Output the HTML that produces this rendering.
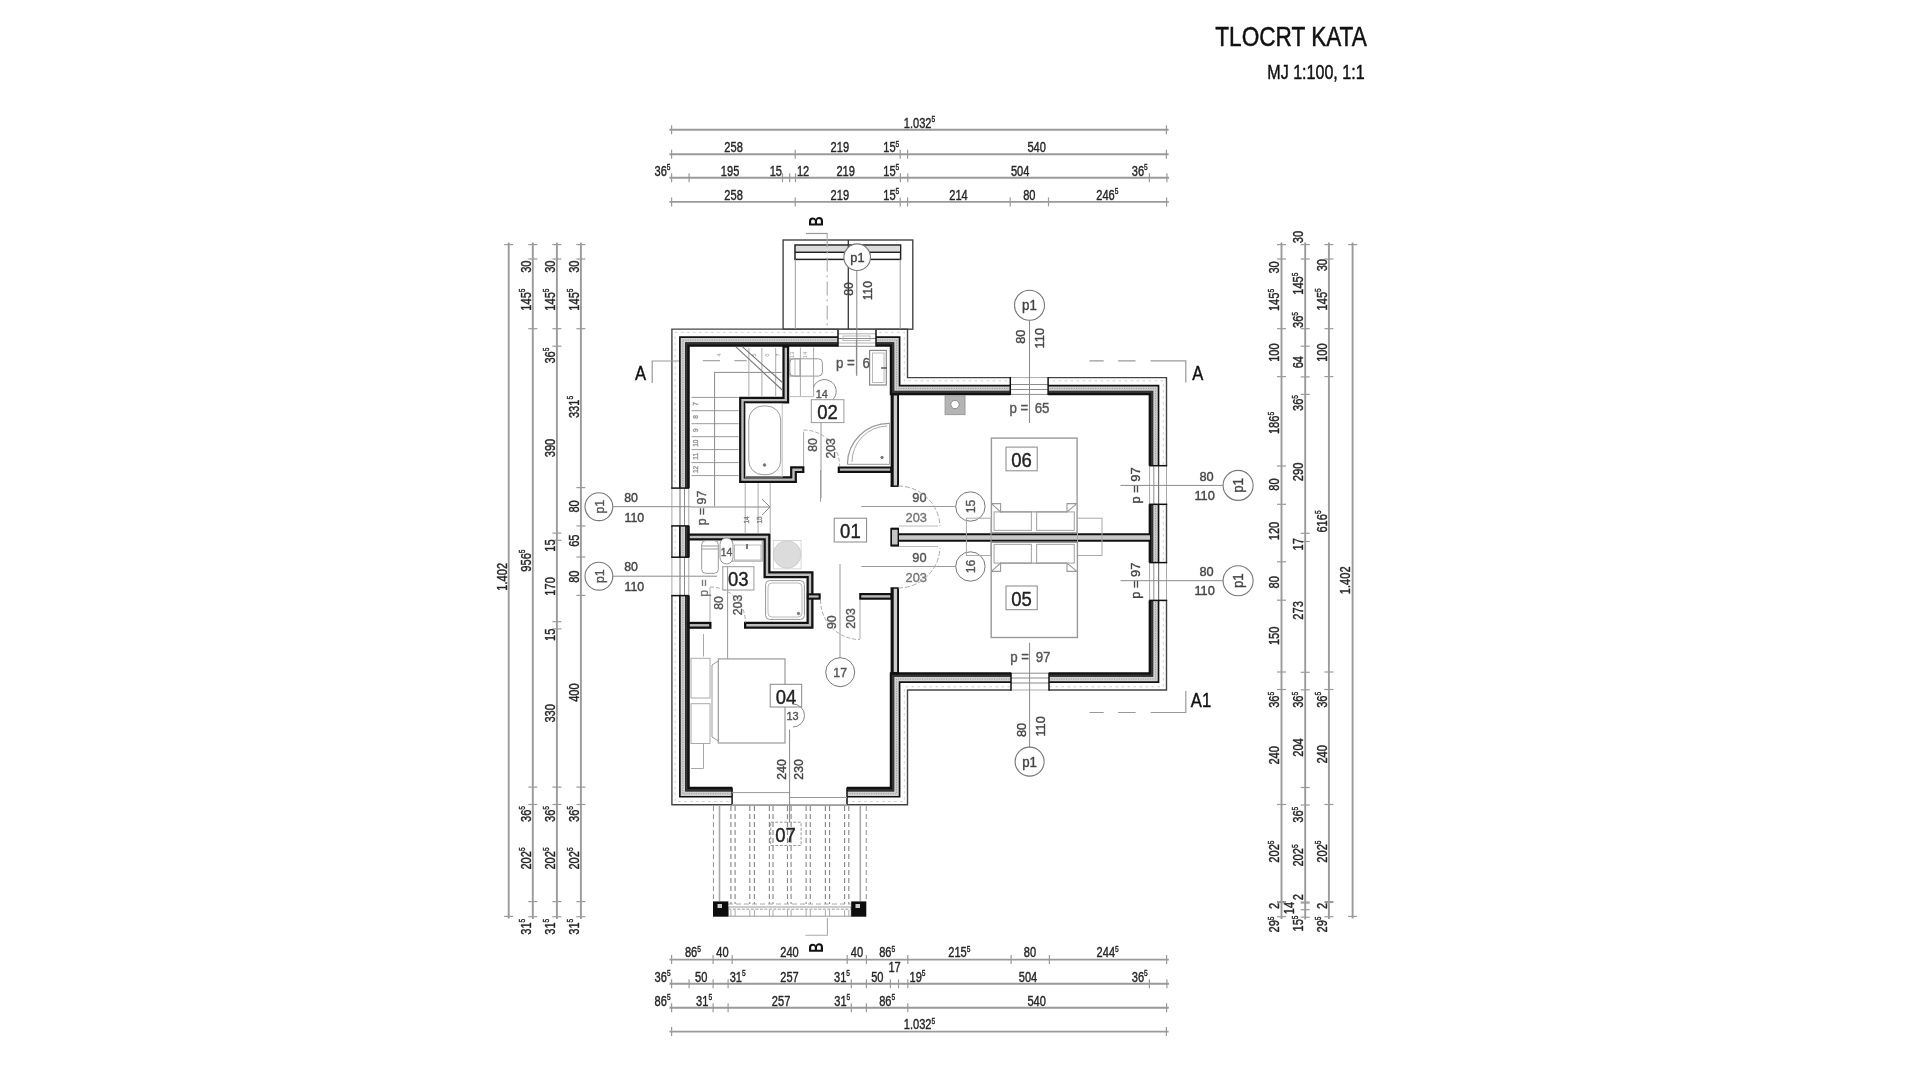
<!DOCTYPE html>
<html><head><meta charset="utf-8"><title>Tlocrt kata</title>
<style>
html,body{margin:0;padding:0;background:#fff;width:1920px;height:1080px;overflow:hidden}
svg{display:block;font-family:"Liberation Sans",sans-serif;filter:grayscale(1)}
</style></head>
<body>
<svg width="1920" height="1080" viewBox="0 0 1920 1080">
<rect x="0" y="0" width="1920" height="1080" fill="#fff"/>
<text x="1366.8" y="45.9" font-size="28.3" text-anchor="end" fill="#111" stroke="#111" stroke-width="0.5" textLength="151.5" lengthAdjust="spacingAndGlyphs">TLOCRT KATA</text>
<text x="1364.6" y="78.9" font-size="19.9" text-anchor="end" fill="#111" stroke="#111" stroke-width="0.45" textLength="97.3" lengthAdjust="spacingAndGlyphs">MJ 1:100, 1:1</text>
<line x1="669.4" y1="129.7" x2="1168.6" y2="129.7" stroke="#9a9a9a" stroke-width="1.9" />
<line x1="671.6" y1="125.2" x2="671.6" y2="134.2" stroke="#9a9a9a" stroke-width="1.2" />
<line x1="1166.4" y1="125.2" x2="1166.4" y2="134.2" stroke="#9a9a9a" stroke-width="1.2" />
<text transform="translate(919.5,127.5) scale(0.78,1)" font-size="14.2" text-anchor="middle" fill="#262626" stroke="#262626" stroke-width="0.4" font-weight="normal" >1.032<tspan font-size="8.5" dy="-5.4">5</tspan></text>
<line x1="669.4" y1="154.2" x2="1168.6" y2="154.2" stroke="#9a9a9a" stroke-width="1.9" />
<line x1="671.6" y1="149.7" x2="671.6" y2="158.7" stroke="#9a9a9a" stroke-width="1.2" />
<line x1="795.2" y1="149.7" x2="795.2" y2="158.7" stroke="#9a9a9a" stroke-width="1.2" />
<line x1="900.2" y1="149.7" x2="900.2" y2="158.7" stroke="#9a9a9a" stroke-width="1.2" />
<line x1="907.6" y1="149.7" x2="907.6" y2="158.7" stroke="#9a9a9a" stroke-width="1.2" />
<line x1="1166.4" y1="149.7" x2="1166.4" y2="158.7" stroke="#9a9a9a" stroke-width="1.2" />
<text transform="translate(733.6,152) scale(0.78,1)" font-size="14.2" text-anchor="middle" fill="#262626" stroke="#262626" stroke-width="0.4" font-weight="normal" >258</text>
<text transform="translate(839.8,152) scale(0.78,1)" font-size="14.2" text-anchor="middle" fill="#262626" stroke="#262626" stroke-width="0.4" font-weight="normal" >219</text>
<text transform="translate(891.3,152) scale(0.78,1)" font-size="14.2" text-anchor="middle" fill="#262626" stroke="#262626" stroke-width="0.4" font-weight="normal" >15<tspan font-size="8.5" dy="-5.4">5</tspan></text>
<text transform="translate(1036.7,152) scale(0.78,1)" font-size="14.2" text-anchor="middle" fill="#262626" stroke="#262626" stroke-width="0.4" font-weight="normal" >540</text>
<line x1="669.4" y1="177.7" x2="1169.1" y2="177.7" stroke="#9a9a9a" stroke-width="1.9" />
<line x1="671.6" y1="173.2" x2="671.6" y2="182.2" stroke="#9a9a9a" stroke-width="1.2" />
<line x1="689.1" y1="173.2" x2="689.1" y2="182.2" stroke="#9a9a9a" stroke-width="1.2" />
<line x1="782.5" y1="173.2" x2="782.5" y2="182.2" stroke="#9a9a9a" stroke-width="1.2" />
<line x1="789.7" y1="173.2" x2="789.7" y2="182.2" stroke="#9a9a9a" stroke-width="1.2" />
<line x1="795.5" y1="173.2" x2="795.5" y2="182.2" stroke="#9a9a9a" stroke-width="1.2" />
<line x1="900.4" y1="173.2" x2="900.4" y2="182.2" stroke="#9a9a9a" stroke-width="1.2" />
<line x1="907.8" y1="173.2" x2="907.8" y2="182.2" stroke="#9a9a9a" stroke-width="1.2" />
<line x1="1149.4" y1="173.2" x2="1149.4" y2="182.2" stroke="#9a9a9a" stroke-width="1.2" />
<line x1="1166.9" y1="173.2" x2="1166.9" y2="182.2" stroke="#9a9a9a" stroke-width="1.2" />
<text transform="translate(662.5,175.5) scale(0.78,1)" font-size="14.2" text-anchor="middle" fill="#262626" stroke="#262626" stroke-width="0.4" font-weight="normal" >36<tspan font-size="8.5" dy="-5.4">5</tspan></text>
<text transform="translate(730.1,175.5) scale(0.78,1)" font-size="14.2" text-anchor="middle" fill="#262626" stroke="#262626" stroke-width="0.4" font-weight="normal" >195</text>
<text transform="translate(775.8,175.5) scale(0.78,1)" font-size="14.2" text-anchor="middle" fill="#262626" stroke="#262626" stroke-width="0.4" font-weight="normal" >15</text>
<text transform="translate(803.1,175.5) scale(0.78,1)" font-size="14.2" text-anchor="middle" fill="#262626" stroke="#262626" stroke-width="0.4" font-weight="normal" >12</text>
<text transform="translate(845.7,175.5) scale(0.78,1)" font-size="14.2" text-anchor="middle" fill="#262626" stroke="#262626" stroke-width="0.4" font-weight="normal" >219</text>
<text transform="translate(891.3,175.5) scale(0.78,1)" font-size="14.2" text-anchor="middle" fill="#262626" stroke="#262626" stroke-width="0.4" font-weight="normal" >15<tspan font-size="8.5" dy="-5.4">5</tspan></text>
<text transform="translate(1020.2,175.5) scale(0.78,1)" font-size="14.2" text-anchor="middle" fill="#262626" stroke="#262626" stroke-width="0.4" font-weight="normal" >504</text>
<text transform="translate(1139.8,175.5) scale(0.78,1)" font-size="14.2" text-anchor="middle" fill="#262626" stroke="#262626" stroke-width="0.4" font-weight="normal" >36<tspan font-size="8.5" dy="-5.4">5</tspan></text>
<line x1="669.4" y1="201.9" x2="1168.8" y2="201.9" stroke="#9a9a9a" stroke-width="1.9" />
<line x1="671.6" y1="197.4" x2="671.6" y2="206.4" stroke="#9a9a9a" stroke-width="1.2" />
<line x1="795.2" y1="197.4" x2="795.2" y2="206.4" stroke="#9a9a9a" stroke-width="1.2" />
<line x1="900.2" y1="197.4" x2="900.2" y2="206.4" stroke="#9a9a9a" stroke-width="1.2" />
<line x1="907.6" y1="197.4" x2="907.6" y2="206.4" stroke="#9a9a9a" stroke-width="1.2" />
<line x1="1010.2" y1="197.4" x2="1010.2" y2="206.4" stroke="#9a9a9a" stroke-width="1.2" />
<line x1="1048.5" y1="197.4" x2="1048.5" y2="206.4" stroke="#9a9a9a" stroke-width="1.2" />
<line x1="1166.6" y1="197.4" x2="1166.6" y2="206.4" stroke="#9a9a9a" stroke-width="1.2" />
<text transform="translate(733.6,199.7) scale(0.78,1)" font-size="14.2" text-anchor="middle" fill="#262626" stroke="#262626" stroke-width="0.4" font-weight="normal" >258</text>
<text transform="translate(839.8,199.7) scale(0.78,1)" font-size="14.2" text-anchor="middle" fill="#262626" stroke="#262626" stroke-width="0.4" font-weight="normal" >219</text>
<text transform="translate(891.3,199.7) scale(0.78,1)" font-size="14.2" text-anchor="middle" fill="#262626" stroke="#262626" stroke-width="0.4" font-weight="normal" >15<tspan font-size="8.5" dy="-5.4">5</tspan></text>
<text transform="translate(958.5,199.7) scale(0.78,1)" font-size="14.2" text-anchor="middle" fill="#262626" stroke="#262626" stroke-width="0.4" font-weight="normal" >214</text>
<text transform="translate(1029.3,199.7) scale(0.78,1)" font-size="14.2" text-anchor="middle" fill="#262626" stroke="#262626" stroke-width="0.4" font-weight="normal" >80</text>
<text transform="translate(1107.3,199.7) scale(0.78,1)" font-size="14.2" text-anchor="middle" fill="#262626" stroke="#262626" stroke-width="0.4" font-weight="normal" >246<tspan font-size="8.5" dy="-5.4">5</tspan></text>
<line x1="669.4" y1="959.6" x2="1168.8" y2="959.6" stroke="#9a9a9a" stroke-width="1.9" />
<line x1="671.6" y1="955.1" x2="671.6" y2="964.1" stroke="#9a9a9a" stroke-width="1.2" />
<line x1="713.1" y1="955.1" x2="713.1" y2="964.1" stroke="#9a9a9a" stroke-width="1.2" />
<line x1="732.2" y1="955.1" x2="732.2" y2="964.1" stroke="#9a9a9a" stroke-width="1.2" />
<line x1="847.2" y1="955.1" x2="847.2" y2="964.1" stroke="#9a9a9a" stroke-width="1.2" />
<line x1="866.4" y1="955.1" x2="866.4" y2="964.1" stroke="#9a9a9a" stroke-width="1.2" />
<line x1="907.8" y1="955.1" x2="907.8" y2="964.1" stroke="#9a9a9a" stroke-width="1.2" />
<line x1="1011.1" y1="955.1" x2="1011.1" y2="964.1" stroke="#9a9a9a" stroke-width="1.2" />
<line x1="1049.4" y1="955.1" x2="1049.4" y2="964.1" stroke="#9a9a9a" stroke-width="1.2" />
<line x1="1166.6" y1="955.1" x2="1166.6" y2="964.1" stroke="#9a9a9a" stroke-width="1.2" />
<text transform="translate(692.9,957.4) scale(0.78,1)" font-size="14.2" text-anchor="middle" fill="#262626" stroke="#262626" stroke-width="0.4" font-weight="normal" >86<tspan font-size="8.5" dy="-5.4">5</tspan></text>
<text transform="translate(722.4,957.4) scale(0.78,1)" font-size="14.2" text-anchor="middle" fill="#262626" stroke="#262626" stroke-width="0.4" font-weight="normal" >40</text>
<text transform="translate(789.5,957.4) scale(0.78,1)" font-size="14.2" text-anchor="middle" fill="#262626" stroke="#262626" stroke-width="0.4" font-weight="normal" >240</text>
<text transform="translate(856.9,957.4) scale(0.78,1)" font-size="14.2" text-anchor="middle" fill="#262626" stroke="#262626" stroke-width="0.4" font-weight="normal" >40</text>
<text transform="translate(887.2,957.4) scale(0.78,1)" font-size="14.2" text-anchor="middle" fill="#262626" stroke="#262626" stroke-width="0.4" font-weight="normal" >86<tspan font-size="8.5" dy="-5.4">5</tspan></text>
<text transform="translate(959.3,957.4) scale(0.78,1)" font-size="14.2" text-anchor="middle" fill="#262626" stroke="#262626" stroke-width="0.4" font-weight="normal" >215<tspan font-size="8.5" dy="-5.4">5</tspan></text>
<text transform="translate(1030,957.4) scale(0.78,1)" font-size="14.2" text-anchor="middle" fill="#262626" stroke="#262626" stroke-width="0.4" font-weight="normal" >80</text>
<text transform="translate(1107.7,957.4) scale(0.78,1)" font-size="14.2" text-anchor="middle" fill="#262626" stroke="#262626" stroke-width="0.4" font-weight="normal" >244<tspan font-size="8.5" dy="-5.4">5</tspan></text>
<line x1="669.4" y1="983.8" x2="1169.1" y2="983.8" stroke="#9a9a9a" stroke-width="1.9" />
<line x1="671.6" y1="979.3" x2="671.6" y2="988.3" stroke="#9a9a9a" stroke-width="1.2" />
<line x1="689.1" y1="979.3" x2="689.1" y2="988.3" stroke="#9a9a9a" stroke-width="1.2" />
<line x1="713.1" y1="979.3" x2="713.1" y2="988.3" stroke="#9a9a9a" stroke-width="1.2" />
<line x1="728.1" y1="979.3" x2="728.1" y2="988.3" stroke="#9a9a9a" stroke-width="1.2" />
<line x1="851.3" y1="979.3" x2="851.3" y2="988.3" stroke="#9a9a9a" stroke-width="1.2" />
<line x1="866.4" y1="979.3" x2="866.4" y2="988.3" stroke="#9a9a9a" stroke-width="1.2" />
<line x1="890.4" y1="979.3" x2="890.4" y2="988.3" stroke="#9a9a9a" stroke-width="1.2" />
<line x1="898.5" y1="979.3" x2="898.5" y2="988.3" stroke="#9a9a9a" stroke-width="1.2" />
<line x1="907.8" y1="979.3" x2="907.8" y2="988.3" stroke="#9a9a9a" stroke-width="1.2" />
<line x1="1149.4" y1="979.3" x2="1149.4" y2="988.3" stroke="#9a9a9a" stroke-width="1.2" />
<line x1="1166.9" y1="979.3" x2="1166.9" y2="988.3" stroke="#9a9a9a" stroke-width="1.2" />
<text transform="translate(662.6,981.6) scale(0.78,1)" font-size="14.2" text-anchor="middle" fill="#262626" stroke="#262626" stroke-width="0.4" font-weight="normal" >36<tspan font-size="8.5" dy="-5.4">5</tspan></text>
<text transform="translate(701.2,981.6) scale(0.78,1)" font-size="14.2" text-anchor="middle" fill="#262626" stroke="#262626" stroke-width="0.4" font-weight="normal" >50</text>
<text transform="translate(737.7,981.6) scale(0.78,1)" font-size="14.2" text-anchor="middle" fill="#262626" stroke="#262626" stroke-width="0.4" font-weight="normal" >31<tspan font-size="8.5" dy="-5.4">5</tspan></text>
<text transform="translate(789.5,981.6) scale(0.78,1)" font-size="14.2" text-anchor="middle" fill="#262626" stroke="#262626" stroke-width="0.4" font-weight="normal" >257</text>
<text transform="translate(842,981.6) scale(0.78,1)" font-size="14.2" text-anchor="middle" fill="#262626" stroke="#262626" stroke-width="0.4" font-weight="normal" >31<tspan font-size="8.5" dy="-5.4">5</tspan></text>
<text transform="translate(877.3,981.6) scale(0.78,1)" font-size="14.2" text-anchor="middle" fill="#262626" stroke="#262626" stroke-width="0.4" font-weight="normal" >50</text>
<text transform="translate(917.5,981.6) scale(0.78,1)" font-size="14.2" text-anchor="middle" fill="#262626" stroke="#262626" stroke-width="0.4" font-weight="normal" >19<tspan font-size="8.5" dy="-5.4">5</tspan></text>
<text transform="translate(1028,981.6) scale(0.78,1)" font-size="14.2" text-anchor="middle" fill="#262626" stroke="#262626" stroke-width="0.4" font-weight="normal" >504</text>
<text transform="translate(1139.8,981.6) scale(0.78,1)" font-size="14.2" text-anchor="middle" fill="#262626" stroke="#262626" stroke-width="0.4" font-weight="normal" >36<tspan font-size="8.5" dy="-5.4">5</tspan></text>
<text transform="translate(894.6,971.5) scale(0.78,1)" font-size="14.2" text-anchor="middle" fill="#262626" stroke="#262626" stroke-width="0.4" font-weight="normal" >17</text>
<line x1="669.4" y1="1007.8" x2="1168.8" y2="1007.8" stroke="#9a9a9a" stroke-width="1.9" />
<line x1="671.6" y1="1003.3" x2="671.6" y2="1012.3" stroke="#9a9a9a" stroke-width="1.2" />
<line x1="713.1" y1="1003.3" x2="713.1" y2="1012.3" stroke="#9a9a9a" stroke-width="1.2" />
<line x1="728.1" y1="1003.3" x2="728.1" y2="1012.3" stroke="#9a9a9a" stroke-width="1.2" />
<line x1="851.3" y1="1003.3" x2="851.3" y2="1012.3" stroke="#9a9a9a" stroke-width="1.2" />
<line x1="866.4" y1="1003.3" x2="866.4" y2="1012.3" stroke="#9a9a9a" stroke-width="1.2" />
<line x1="907.8" y1="1003.3" x2="907.8" y2="1012.3" stroke="#9a9a9a" stroke-width="1.2" />
<line x1="1166.6" y1="1003.3" x2="1166.6" y2="1012.3" stroke="#9a9a9a" stroke-width="1.2" />
<text transform="translate(662.6,1005.6) scale(0.78,1)" font-size="14.2" text-anchor="middle" fill="#262626" stroke="#262626" stroke-width="0.4" font-weight="normal" >86<tspan font-size="8.5" dy="-5.4">5</tspan></text>
<text transform="translate(704.1,1005.6) scale(0.78,1)" font-size="14.2" text-anchor="middle" fill="#262626" stroke="#262626" stroke-width="0.4" font-weight="normal" >31<tspan font-size="8.5" dy="-5.4">5</tspan></text>
<text transform="translate(781.1,1005.6) scale(0.78,1)" font-size="14.2" text-anchor="middle" fill="#262626" stroke="#262626" stroke-width="0.4" font-weight="normal" >257</text>
<text transform="translate(842.3,1005.6) scale(0.78,1)" font-size="14.2" text-anchor="middle" fill="#262626" stroke="#262626" stroke-width="0.4" font-weight="normal" >31<tspan font-size="8.5" dy="-5.4">5</tspan></text>
<text transform="translate(887.2,1005.6) scale(0.78,1)" font-size="14.2" text-anchor="middle" fill="#262626" stroke="#262626" stroke-width="0.4" font-weight="normal" >86<tspan font-size="8.5" dy="-5.4">5</tspan></text>
<text transform="translate(1036.7,1005.6) scale(0.78,1)" font-size="14.2" text-anchor="middle" fill="#262626" stroke="#262626" stroke-width="0.4" font-weight="normal" >540</text>
<line x1="669.4" y1="1031.6" x2="1168.6" y2="1031.6" stroke="#9a9a9a" stroke-width="1.9" />
<line x1="671.6" y1="1027.1" x2="671.6" y2="1036.1" stroke="#9a9a9a" stroke-width="1.2" />
<line x1="1166.4" y1="1027.1" x2="1166.4" y2="1036.1" stroke="#9a9a9a" stroke-width="1.2" />
<text transform="translate(919.5,1029.4) scale(0.78,1)" font-size="14.2" text-anchor="middle" fill="#262626" stroke="#262626" stroke-width="0.4" font-weight="normal" >1.032<tspan font-size="8.5" dy="-5.4">5</tspan></text>
<line x1="508.7" y1="242.4" x2="508.7" y2="918.6" stroke="#9a9a9a" stroke-width="1.9" />
<line x1="504.2" y1="244.6" x2="513.2" y2="244.6" stroke="#9a9a9a" stroke-width="1.2" />
<line x1="504.2" y1="916.4" x2="513.2" y2="916.4" stroke="#9a9a9a" stroke-width="1.2" />
<text transform="translate(506.5,576.8) rotate(-90) scale(0.78,1)" font-size="14.2" text-anchor="middle" fill="#262626" stroke="#262626" stroke-width="0.4" font-weight="normal" >1.402</text>
<line x1="532.8" y1="242.4" x2="532.8" y2="918.9" stroke="#9a9a9a" stroke-width="1.9" />
<line x1="528.3" y1="244.6" x2="537.3" y2="244.6" stroke="#9a9a9a" stroke-width="1.2" />
<line x1="528.3" y1="259" x2="537.3" y2="259" stroke="#9a9a9a" stroke-width="1.2" />
<line x1="528.3" y1="328.7" x2="537.3" y2="328.7" stroke="#9a9a9a" stroke-width="1.2" />
<line x1="528.3" y1="787.1" x2="537.3" y2="787.1" stroke="#9a9a9a" stroke-width="1.2" />
<line x1="528.3" y1="804.5" x2="537.3" y2="804.5" stroke="#9a9a9a" stroke-width="1.2" />
<line x1="528.3" y1="901.6" x2="537.3" y2="901.6" stroke="#9a9a9a" stroke-width="1.2" />
<line x1="528.3" y1="916.7" x2="537.3" y2="916.7" stroke="#9a9a9a" stroke-width="1.2" />
<text transform="translate(530.6,266.7) rotate(-90) scale(0.78,1)" font-size="14.2" text-anchor="middle" fill="#262626" stroke="#262626" stroke-width="0.4" font-weight="normal" >30</text>
<text transform="translate(530.6,299.6) rotate(-90) scale(0.78,1)" font-size="14.2" text-anchor="middle" fill="#262626" stroke="#262626" stroke-width="0.4" font-weight="normal" >145<tspan font-size="8.5" dy="-5.4">5</tspan></text>
<text transform="translate(530.6,560.6) rotate(-90) scale(0.78,1)" font-size="14.2" text-anchor="middle" fill="#262626" stroke="#262626" stroke-width="0.4" font-weight="normal" >956<tspan font-size="8.5" dy="-5.4">5</tspan></text>
<text transform="translate(530.6,814) rotate(-90) scale(0.78,1)" font-size="14.2" text-anchor="middle" fill="#262626" stroke="#262626" stroke-width="0.4" font-weight="normal" >36<tspan font-size="8.5" dy="-5.4">5</tspan></text>
<text transform="translate(530.6,858.5) rotate(-90) scale(0.78,1)" font-size="14.2" text-anchor="middle" fill="#262626" stroke="#262626" stroke-width="0.4" font-weight="normal" >202<tspan font-size="8.5" dy="-5.4">5</tspan></text>
<text transform="translate(530.6,926.7) rotate(-90) scale(0.78,1)" font-size="14.2" text-anchor="middle" fill="#262626" stroke="#262626" stroke-width="0.4" font-weight="normal" >31<tspan font-size="8.5" dy="-5.4">5</tspan></text>
<line x1="556.9" y1="242.4" x2="556.9" y2="918.9" stroke="#9a9a9a" stroke-width="1.9" />
<line x1="552.4" y1="244.6" x2="561.4" y2="244.6" stroke="#9a9a9a" stroke-width="1.2" />
<line x1="552.4" y1="259" x2="561.4" y2="259" stroke="#9a9a9a" stroke-width="1.2" />
<line x1="552.4" y1="328.7" x2="561.4" y2="328.7" stroke="#9a9a9a" stroke-width="1.2" />
<line x1="552.4" y1="346.2" x2="561.4" y2="346.2" stroke="#9a9a9a" stroke-width="1.2" />
<line x1="552.4" y1="533.1" x2="561.4" y2="533.1" stroke="#9a9a9a" stroke-width="1.2" />
<line x1="552.4" y1="540.3" x2="561.4" y2="540.3" stroke="#9a9a9a" stroke-width="1.2" />
<line x1="552.4" y1="621.7" x2="561.4" y2="621.7" stroke="#9a9a9a" stroke-width="1.2" />
<line x1="552.4" y1="628.9" x2="561.4" y2="628.9" stroke="#9a9a9a" stroke-width="1.2" />
<line x1="552.4" y1="787.1" x2="561.4" y2="787.1" stroke="#9a9a9a" stroke-width="1.2" />
<line x1="552.4" y1="804.5" x2="561.4" y2="804.5" stroke="#9a9a9a" stroke-width="1.2" />
<line x1="552.4" y1="901.6" x2="561.4" y2="901.6" stroke="#9a9a9a" stroke-width="1.2" />
<line x1="552.4" y1="916.7" x2="561.4" y2="916.7" stroke="#9a9a9a" stroke-width="1.2" />
<text transform="translate(554.7,266.7) rotate(-90) scale(0.78,1)" font-size="14.2" text-anchor="middle" fill="#262626" stroke="#262626" stroke-width="0.4" font-weight="normal" >30</text>
<text transform="translate(554.7,299.6) rotate(-90) scale(0.78,1)" font-size="14.2" text-anchor="middle" fill="#262626" stroke="#262626" stroke-width="0.4" font-weight="normal" >145<tspan font-size="8.5" dy="-5.4">5</tspan></text>
<text transform="translate(554.7,355.6) rotate(-90) scale(0.78,1)" font-size="14.2" text-anchor="middle" fill="#262626" stroke="#262626" stroke-width="0.4" font-weight="normal" >36<tspan font-size="8.5" dy="-5.4">5</tspan></text>
<text transform="translate(554.7,448) rotate(-90) scale(0.78,1)" font-size="14.2" text-anchor="middle" fill="#262626" stroke="#262626" stroke-width="0.4" font-weight="normal" >390</text>
<text transform="translate(554.7,545.5) rotate(-90) scale(0.78,1)" font-size="14.2" text-anchor="middle" fill="#262626" stroke="#262626" stroke-width="0.4" font-weight="normal" >15</text>
<text transform="translate(554.7,586.4) rotate(-90) scale(0.78,1)" font-size="14.2" text-anchor="middle" fill="#262626" stroke="#262626" stroke-width="0.4" font-weight="normal" >170</text>
<text transform="translate(554.7,634.8) rotate(-90) scale(0.78,1)" font-size="14.2" text-anchor="middle" fill="#262626" stroke="#262626" stroke-width="0.4" font-weight="normal" >15</text>
<text transform="translate(554.7,713.3) rotate(-90) scale(0.78,1)" font-size="14.2" text-anchor="middle" fill="#262626" stroke="#262626" stroke-width="0.4" font-weight="normal" >330</text>
<text transform="translate(554.7,814) rotate(-90) scale(0.78,1)" font-size="14.2" text-anchor="middle" fill="#262626" stroke="#262626" stroke-width="0.4" font-weight="normal" >36<tspan font-size="8.5" dy="-5.4">5</tspan></text>
<text transform="translate(554.7,858.5) rotate(-90) scale(0.78,1)" font-size="14.2" text-anchor="middle" fill="#262626" stroke="#262626" stroke-width="0.4" font-weight="normal" >202<tspan font-size="8.5" dy="-5.4">5</tspan></text>
<text transform="translate(554.7,926.7) rotate(-90) scale(0.78,1)" font-size="14.2" text-anchor="middle" fill="#262626" stroke="#262626" stroke-width="0.4" font-weight="normal" >31<tspan font-size="8.5" dy="-5.4">5</tspan></text>
<line x1="580.9" y1="242.4" x2="580.9" y2="918.9" stroke="#9a9a9a" stroke-width="1.9" />
<line x1="576.4" y1="244.6" x2="585.4" y2="244.6" stroke="#9a9a9a" stroke-width="1.2" />
<line x1="576.4" y1="259" x2="585.4" y2="259" stroke="#9a9a9a" stroke-width="1.2" />
<line x1="576.4" y1="328.7" x2="585.4" y2="328.7" stroke="#9a9a9a" stroke-width="1.2" />
<line x1="576.4" y1="487.6" x2="585.4" y2="487.6" stroke="#9a9a9a" stroke-width="1.2" />
<line x1="576.4" y1="525.9" x2="585.4" y2="525.9" stroke="#9a9a9a" stroke-width="1.2" />
<line x1="576.4" y1="557" x2="585.4" y2="557" stroke="#9a9a9a" stroke-width="1.2" />
<line x1="576.4" y1="595.4" x2="585.4" y2="595.4" stroke="#9a9a9a" stroke-width="1.2" />
<line x1="576.4" y1="787.1" x2="585.4" y2="787.1" stroke="#9a9a9a" stroke-width="1.2" />
<line x1="576.4" y1="804.5" x2="585.4" y2="804.5" stroke="#9a9a9a" stroke-width="1.2" />
<line x1="576.4" y1="901.6" x2="585.4" y2="901.6" stroke="#9a9a9a" stroke-width="1.2" />
<line x1="576.4" y1="916.7" x2="585.4" y2="916.7" stroke="#9a9a9a" stroke-width="1.2" />
<text transform="translate(578.7,266.7) rotate(-90) scale(0.78,1)" font-size="14.2" text-anchor="middle" fill="#262626" stroke="#262626" stroke-width="0.4" font-weight="normal" >30</text>
<text transform="translate(578.7,299.6) rotate(-90) scale(0.78,1)" font-size="14.2" text-anchor="middle" fill="#262626" stroke="#262626" stroke-width="0.4" font-weight="normal" >145<tspan font-size="8.5" dy="-5.4">5</tspan></text>
<text transform="translate(578.7,407) rotate(-90) scale(0.78,1)" font-size="14.2" text-anchor="middle" fill="#262626" stroke="#262626" stroke-width="0.4" font-weight="normal" >331<tspan font-size="8.5" dy="-5.4">5</tspan></text>
<text transform="translate(578.7,506.4) rotate(-90) scale(0.78,1)" font-size="14.2" text-anchor="middle" fill="#262626" stroke="#262626" stroke-width="0.4" font-weight="normal" >80</text>
<text transform="translate(578.7,540.7) rotate(-90) scale(0.78,1)" font-size="14.2" text-anchor="middle" fill="#262626" stroke="#262626" stroke-width="0.4" font-weight="normal" >65</text>
<text transform="translate(578.7,576.7) rotate(-90) scale(0.78,1)" font-size="14.2" text-anchor="middle" fill="#262626" stroke="#262626" stroke-width="0.4" font-weight="normal" >80</text>
<text transform="translate(578.7,692.6) rotate(-90) scale(0.78,1)" font-size="14.2" text-anchor="middle" fill="#262626" stroke="#262626" stroke-width="0.4" font-weight="normal" >400</text>
<text transform="translate(578.7,814) rotate(-90) scale(0.78,1)" font-size="14.2" text-anchor="middle" fill="#262626" stroke="#262626" stroke-width="0.4" font-weight="normal" >36<tspan font-size="8.5" dy="-5.4">5</tspan></text>
<text transform="translate(578.7,858.5) rotate(-90) scale(0.78,1)" font-size="14.2" text-anchor="middle" fill="#262626" stroke="#262626" stroke-width="0.4" font-weight="normal" >202<tspan font-size="8.5" dy="-5.4">5</tspan></text>
<text transform="translate(578.7,926.7) rotate(-90) scale(0.78,1)" font-size="14.2" text-anchor="middle" fill="#262626" stroke="#262626" stroke-width="0.4" font-weight="normal" >31<tspan font-size="8.5" dy="-5.4">5</tspan></text>
<line x1="1281.5" y1="242.4" x2="1281.5" y2="918.9" stroke="#9a9a9a" stroke-width="1.9" />
<line x1="1277" y1="244.6" x2="1286" y2="244.6" stroke="#9a9a9a" stroke-width="1.2" />
<line x1="1277" y1="259" x2="1286" y2="259" stroke="#9a9a9a" stroke-width="1.2" />
<line x1="1277" y1="328.7" x2="1286" y2="328.7" stroke="#9a9a9a" stroke-width="1.2" />
<line x1="1277" y1="376.6" x2="1286" y2="376.6" stroke="#9a9a9a" stroke-width="1.2" />
<line x1="1277" y1="466" x2="1286" y2="466" stroke="#9a9a9a" stroke-width="1.2" />
<line x1="1277" y1="504.3" x2="1286" y2="504.3" stroke="#9a9a9a" stroke-width="1.2" />
<line x1="1277" y1="561.8" x2="1286" y2="561.8" stroke="#9a9a9a" stroke-width="1.2" />
<line x1="1277" y1="600.2" x2="1286" y2="600.2" stroke="#9a9a9a" stroke-width="1.2" />
<line x1="1277" y1="672" x2="1286" y2="672" stroke="#9a9a9a" stroke-width="1.2" />
<line x1="1277" y1="689.5" x2="1286" y2="689.5" stroke="#9a9a9a" stroke-width="1.2" />
<line x1="1277" y1="804.5" x2="1286" y2="804.5" stroke="#9a9a9a" stroke-width="1.2" />
<line x1="1277" y1="901.6" x2="1286" y2="901.6" stroke="#9a9a9a" stroke-width="1.2" />
<line x1="1277" y1="902.5" x2="1286" y2="902.5" stroke="#9a9a9a" stroke-width="1.2" />
<line x1="1277" y1="916.7" x2="1286" y2="916.7" stroke="#9a9a9a" stroke-width="1.2" />
<text transform="translate(1279.3,267.4) rotate(-90) scale(0.78,1)" font-size="14.2" text-anchor="middle" fill="#262626" stroke="#262626" stroke-width="0.4" font-weight="normal" >30</text>
<text transform="translate(1279.3,300) rotate(-90) scale(0.78,1)" font-size="14.2" text-anchor="middle" fill="#262626" stroke="#262626" stroke-width="0.4" font-weight="normal" >145<tspan font-size="8.5" dy="-5.4">5</tspan></text>
<text transform="translate(1279.3,352.6) rotate(-90) scale(0.78,1)" font-size="14.2" text-anchor="middle" fill="#262626" stroke="#262626" stroke-width="0.4" font-weight="normal" >100</text>
<text transform="translate(1279.3,423) rotate(-90) scale(0.78,1)" font-size="14.2" text-anchor="middle" fill="#262626" stroke="#262626" stroke-width="0.4" font-weight="normal" >186<tspan font-size="8.5" dy="-5.4">5</tspan></text>
<text transform="translate(1279.3,484.5) rotate(-90) scale(0.78,1)" font-size="14.2" text-anchor="middle" fill="#262626" stroke="#262626" stroke-width="0.4" font-weight="normal" >80</text>
<text transform="translate(1279.3,531) rotate(-90) scale(0.78,1)" font-size="14.2" text-anchor="middle" fill="#262626" stroke="#262626" stroke-width="0.4" font-weight="normal" >120</text>
<text transform="translate(1279.3,582.3) rotate(-90) scale(0.78,1)" font-size="14.2" text-anchor="middle" fill="#262626" stroke="#262626" stroke-width="0.4" font-weight="normal" >80</text>
<text transform="translate(1279.3,635.8) rotate(-90) scale(0.78,1)" font-size="14.2" text-anchor="middle" fill="#262626" stroke="#262626" stroke-width="0.4" font-weight="normal" >150</text>
<text transform="translate(1279.3,699.8) rotate(-90) scale(0.78,1)" font-size="14.2" text-anchor="middle" fill="#262626" stroke="#262626" stroke-width="0.4" font-weight="normal" >36<tspan font-size="8.5" dy="-5.4">5</tspan></text>
<text transform="translate(1279.3,755.3) rotate(-90) scale(0.78,1)" font-size="14.2" text-anchor="middle" fill="#262626" stroke="#262626" stroke-width="0.4" font-weight="normal" >240</text>
<text transform="translate(1279.3,851.6) rotate(-90) scale(0.78,1)" font-size="14.2" text-anchor="middle" fill="#262626" stroke="#262626" stroke-width="0.4" font-weight="normal" >202<tspan font-size="8.5" dy="-5.4">5</tspan></text>
<text transform="translate(1279.3,906) rotate(-90) scale(0.78,1)" font-size="14.2" text-anchor="middle" fill="#262626" stroke="#262626" stroke-width="0.4" font-weight="normal" >2</text>
<text transform="translate(1279.3,924.5) rotate(-90) scale(0.78,1)" font-size="14.2" text-anchor="middle" fill="#262626" stroke="#262626" stroke-width="0.4" font-weight="normal" >29<tspan font-size="8.5" dy="-5.4">5</tspan></text>
<line x1="1305.2" y1="242.4" x2="1305.2" y2="919.4" stroke="#9a9a9a" stroke-width="1.9" />
<line x1="1300.7" y1="244.6" x2="1309.7" y2="244.6" stroke="#9a9a9a" stroke-width="1.2" />
<line x1="1300.7" y1="259" x2="1309.7" y2="259" stroke="#9a9a9a" stroke-width="1.2" />
<line x1="1300.7" y1="328.7" x2="1309.7" y2="328.7" stroke="#9a9a9a" stroke-width="1.2" />
<line x1="1300.7" y1="346.2" x2="1309.7" y2="346.2" stroke="#9a9a9a" stroke-width="1.2" />
<line x1="1300.7" y1="376.9" x2="1309.7" y2="376.9" stroke="#9a9a9a" stroke-width="1.2" />
<line x1="1300.7" y1="394.4" x2="1309.7" y2="394.4" stroke="#9a9a9a" stroke-width="1.2" />
<line x1="1300.7" y1="533.3" x2="1309.7" y2="533.3" stroke="#9a9a9a" stroke-width="1.2" />
<line x1="1300.7" y1="541.5" x2="1309.7" y2="541.5" stroke="#9a9a9a" stroke-width="1.2" />
<line x1="1300.7" y1="672.3" x2="1309.7" y2="672.3" stroke="#9a9a9a" stroke-width="1.2" />
<line x1="1300.7" y1="689.8" x2="1309.7" y2="689.8" stroke="#9a9a9a" stroke-width="1.2" />
<line x1="1300.7" y1="787.5" x2="1309.7" y2="787.5" stroke="#9a9a9a" stroke-width="1.2" />
<line x1="1300.7" y1="805" x2="1309.7" y2="805" stroke="#9a9a9a" stroke-width="1.2" />
<line x1="1300.7" y1="902.1" x2="1309.7" y2="902.1" stroke="#9a9a9a" stroke-width="1.2" />
<line x1="1300.7" y1="903" x2="1309.7" y2="903" stroke="#9a9a9a" stroke-width="1.2" />
<line x1="1300.7" y1="909.7" x2="1309.7" y2="909.7" stroke="#9a9a9a" stroke-width="1.2" />
<line x1="1300.7" y1="917.2" x2="1309.7" y2="917.2" stroke="#9a9a9a" stroke-width="1.2" />
<text transform="translate(1303,237) rotate(-90) scale(0.78,1)" font-size="14.2" text-anchor="middle" fill="#262626" stroke="#262626" stroke-width="0.4" font-weight="normal" >30</text>
<text transform="translate(1303,283.7) rotate(-90) scale(0.78,1)" font-size="14.2" text-anchor="middle" fill="#262626" stroke="#262626" stroke-width="0.4" font-weight="normal" >145<tspan font-size="8.5" dy="-5.4">5</tspan></text>
<text transform="translate(1303,320) rotate(-90) scale(0.78,1)" font-size="14.2" text-anchor="middle" fill="#262626" stroke="#262626" stroke-width="0.4" font-weight="normal" >36<tspan font-size="8.5" dy="-5.4">5</tspan></text>
<text transform="translate(1303,362.2) rotate(-90) scale(0.78,1)" font-size="14.2" text-anchor="middle" fill="#262626" stroke="#262626" stroke-width="0.4" font-weight="normal" >64</text>
<text transform="translate(1303,403) rotate(-90) scale(0.78,1)" font-size="14.2" text-anchor="middle" fill="#262626" stroke="#262626" stroke-width="0.4" font-weight="normal" >36<tspan font-size="8.5" dy="-5.4">5</tspan></text>
<text transform="translate(1303,471.9) rotate(-90) scale(0.78,1)" font-size="14.2" text-anchor="middle" fill="#262626" stroke="#262626" stroke-width="0.4" font-weight="normal" >290</text>
<text transform="translate(1303,544.3) rotate(-90) scale(0.78,1)" font-size="14.2" text-anchor="middle" fill="#262626" stroke="#262626" stroke-width="0.4" font-weight="normal" >17</text>
<text transform="translate(1303,610.4) rotate(-90) scale(0.78,1)" font-size="14.2" text-anchor="middle" fill="#262626" stroke="#262626" stroke-width="0.4" font-weight="normal" >273</text>
<text transform="translate(1303,699.8) rotate(-90) scale(0.78,1)" font-size="14.2" text-anchor="middle" fill="#262626" stroke="#262626" stroke-width="0.4" font-weight="normal" >36<tspan font-size="8.5" dy="-5.4">5</tspan></text>
<text transform="translate(1303,747.5) rotate(-90) scale(0.78,1)" font-size="14.2" text-anchor="middle" fill="#262626" stroke="#262626" stroke-width="0.4" font-weight="normal" >204</text>
<text transform="translate(1303,814.7) rotate(-90) scale(0.78,1)" font-size="14.2" text-anchor="middle" fill="#262626" stroke="#262626" stroke-width="0.4" font-weight="normal" >36<tspan font-size="8.5" dy="-5.4">5</tspan></text>
<text transform="translate(1303,855.5) rotate(-90) scale(0.78,1)" font-size="14.2" text-anchor="middle" fill="#262626" stroke="#262626" stroke-width="0.4" font-weight="normal" >202<tspan font-size="8.5" dy="-5.4">5</tspan></text>
<text transform="translate(1303,897.3) rotate(-90) scale(0.78,1)" font-size="14.2" text-anchor="middle" fill="#262626" stroke="#262626" stroke-width="0.4" font-weight="normal" >2</text>
<text transform="translate(1303,923.5) rotate(-90) scale(0.78,1)" font-size="14.2" text-anchor="middle" fill="#262626" stroke="#262626" stroke-width="0.4" font-weight="normal" >15<tspan font-size="8.5" dy="-5.4">5</tspan></text>
<text transform="translate(1293.5,908) rotate(-90) scale(0.78,1)" font-size="14.2" text-anchor="middle" fill="#262626" stroke="#262626" stroke-width="0.4" font-weight="normal" >14</text>
<line x1="1328.9" y1="242.4" x2="1328.9" y2="918.9" stroke="#9a9a9a" stroke-width="1.9" />
<line x1="1324.4" y1="244.6" x2="1333.4" y2="244.6" stroke="#9a9a9a" stroke-width="1.2" />
<line x1="1324.4" y1="259" x2="1333.4" y2="259" stroke="#9a9a9a" stroke-width="1.2" />
<line x1="1324.4" y1="328.7" x2="1333.4" y2="328.7" stroke="#9a9a9a" stroke-width="1.2" />
<line x1="1324.4" y1="376.6" x2="1333.4" y2="376.6" stroke="#9a9a9a" stroke-width="1.2" />
<line x1="1324.4" y1="672" x2="1333.4" y2="672" stroke="#9a9a9a" stroke-width="1.2" />
<line x1="1324.4" y1="689.5" x2="1333.4" y2="689.5" stroke="#9a9a9a" stroke-width="1.2" />
<line x1="1324.4" y1="804.5" x2="1333.4" y2="804.5" stroke="#9a9a9a" stroke-width="1.2" />
<line x1="1324.4" y1="901.6" x2="1333.4" y2="901.6" stroke="#9a9a9a" stroke-width="1.2" />
<line x1="1324.4" y1="902.5" x2="1333.4" y2="902.5" stroke="#9a9a9a" stroke-width="1.2" />
<line x1="1324.4" y1="916.7" x2="1333.4" y2="916.7" stroke="#9a9a9a" stroke-width="1.2" />
<text transform="translate(1326.7,265.2) rotate(-90) scale(0.78,1)" font-size="14.2" text-anchor="middle" fill="#262626" stroke="#262626" stroke-width="0.4" font-weight="normal" >30</text>
<text transform="translate(1326.7,299.3) rotate(-90) scale(0.78,1)" font-size="14.2" text-anchor="middle" fill="#262626" stroke="#262626" stroke-width="0.4" font-weight="normal" >145<tspan font-size="8.5" dy="-5.4">5</tspan></text>
<text transform="translate(1326.7,352.6) rotate(-90) scale(0.78,1)" font-size="14.2" text-anchor="middle" fill="#262626" stroke="#262626" stroke-width="0.4" font-weight="normal" >100</text>
<text transform="translate(1326.7,521.5) rotate(-90) scale(0.78,1)" font-size="14.2" text-anchor="middle" fill="#262626" stroke="#262626" stroke-width="0.4" font-weight="normal" >616<tspan font-size="8.5" dy="-5.4">5</tspan></text>
<text transform="translate(1326.7,699.8) rotate(-90) scale(0.78,1)" font-size="14.2" text-anchor="middle" fill="#262626" stroke="#262626" stroke-width="0.4" font-weight="normal" >36<tspan font-size="8.5" dy="-5.4">5</tspan></text>
<text transform="translate(1326.7,754.3) rotate(-90) scale(0.78,1)" font-size="14.2" text-anchor="middle" fill="#262626" stroke="#262626" stroke-width="0.4" font-weight="normal" >240</text>
<text transform="translate(1326.7,851.6) rotate(-90) scale(0.78,1)" font-size="14.2" text-anchor="middle" fill="#262626" stroke="#262626" stroke-width="0.4" font-weight="normal" >202<tspan font-size="8.5" dy="-5.4">5</tspan></text>
<text transform="translate(1326.7,906) rotate(-90) scale(0.78,1)" font-size="14.2" text-anchor="middle" fill="#262626" stroke="#262626" stroke-width="0.4" font-weight="normal" >2</text>
<text transform="translate(1326.7,924.5) rotate(-90) scale(0.78,1)" font-size="14.2" text-anchor="middle" fill="#262626" stroke="#262626" stroke-width="0.4" font-weight="normal" >29<tspan font-size="8.5" dy="-5.4">5</tspan></text>
<line x1="1352.6" y1="242.4" x2="1352.6" y2="918.6" stroke="#9a9a9a" stroke-width="1.9" />
<line x1="1348.1" y1="244.6" x2="1357.1" y2="244.6" stroke="#9a9a9a" stroke-width="1.2" />
<line x1="1348.1" y1="916.4" x2="1357.1" y2="916.4" stroke="#9a9a9a" stroke-width="1.2" />
<text transform="translate(1350.4,580.3) rotate(-90) scale(0.78,1)" font-size="14.2" text-anchor="middle" fill="#262626" stroke="#262626" stroke-width="0.4" font-weight="normal" >1.402</text>
<path d="M675.1 332.3 L904.3 332.3 L904.3 380.8 L1163.3 380.8 L1163.3 686.8 L904.3 686.8 L904.3 801.5 L675.1 801.5 Z" stroke="#c9c9c9" stroke-width="0.9" fill="none" stroke-dasharray="2.5 3.5"/>
<path d="M671.9 329.1 L907.5 329.1 L907.5 377.6 L1166.5 377.6 L1166.5 690 L907.5 690 L907.5 804.7 L671.9 804.7 Z" stroke="#444" stroke-width="1.4" fill="none" stroke-linejoin="miter"/>
<path d="M684.4 341.5 L895.1 341.5 L895.1 390 L1154 390 L1154 677.6 L895.1 677.6 L895.1 792.2 L684.4 792.2 Z" stroke="#111" stroke-width="10.7" fill="none" stroke-linejoin="miter"/>
<path d="M682.9 340.1 L896.5 340.1 L896.5 388.6 L1155.5 388.6 L1155.5 679 L896.5 679 L896.5 793.7 L682.9 793.7 Z" stroke="#d0d0d0" stroke-width="4.4" fill="none" stroke-linejoin="miter"/>
<path d="M682.9 340.1 L896.5 340.1 L896.5 388.6 L1155.5 388.6 L1155.5 679 L896.5 679 L896.5 793.7 L682.9 793.7 Z" stroke="#8f8f8f" stroke-width="0.9" fill="none" stroke-linejoin="miter" stroke-dasharray="1 1.4"/>
<path d="M686.4 343.6 L893 343.6 L893 392.1 L1152 392.1 L1152 675.5 L893 675.5 L893 790.2 L686.4 790.2 Z" stroke="#333" stroke-width="2.0" fill="none" stroke-linejoin="miter"/>
<line x1="894.8" y1="393" x2="894.8" y2="674.6" stroke="#111" stroke-width="8.4" />
<line x1="895.4" y1="395.6" x2="895.4" y2="672" stroke="#cdcdcd" stroke-width="3.4" />
<rect x="838" y="328.8" width="38" height="19.4" fill="#fff"/>
<line x1="838" y1="333.8" x2="876" y2="333.8" stroke="#aaa" stroke-width="0.9" />
<line x1="838" y1="338.5" x2="876" y2="338.5" stroke="#8c8c8c" stroke-width="1" />
<line x1="838" y1="343" x2="876" y2="343" stroke="#aaa" stroke-width="0.9" />
<line x1="838" y1="346.3" x2="876" y2="346.3" stroke="#8c8c8c" stroke-width="1" />
<line x1="838" y1="329.6" x2="838" y2="346.6" stroke="#111" stroke-width="1.5" />
<line x1="876" y1="329.6" x2="876" y2="346.6" stroke="#111" stroke-width="1.5" />
<rect x="843" y="336" width="27" height="4.5" stroke="#aaa" stroke-width="0.8" fill="none" />
<rect x="1010.3" y="376.1" width="37.8" height="20.4" fill="#fff"/>
<line x1="1010.3" y1="377.6" x2="1048.1" y2="377.6" stroke="#aaa" stroke-width="1" />
<line x1="1010.3" y1="384.5" x2="1048.1" y2="384.5" stroke="#8c8c8c" stroke-width="1.2" />
<line x1="1010.3" y1="389.5" x2="1048.1" y2="389.5" stroke="#8c8c8c" stroke-width="1" />
<line x1="1010.3" y1="394.4" x2="1048.1" y2="394.4" stroke="#8c8c8c" stroke-width="1" />
<line x1="1010.3" y1="376.9" x2="1010.3" y2="394.9" stroke="#111" stroke-width="1.5" />
<line x1="1048.1" y1="376.9" x2="1048.1" y2="394.9" stroke="#111" stroke-width="1.5" />
<rect x="1011" y="671.1" width="38" height="20.4" fill="#fff"/>
<line x1="1011" y1="690" x2="1049" y2="690" stroke="#aaa" stroke-width="1" />
<line x1="1011" y1="683" x2="1049" y2="683" stroke="#8c8c8c" stroke-width="1.2" />
<line x1="1011" y1="678" x2="1049" y2="678" stroke="#8c8c8c" stroke-width="1" />
<line x1="1011" y1="673.2" x2="1049" y2="673.2" stroke="#8c8c8c" stroke-width="1" />
<line x1="1011" y1="672.7" x2="1011" y2="690.7" stroke="#111" stroke-width="1.5" />
<line x1="1049" y1="672.7" x2="1049" y2="690.7" stroke="#111" stroke-width="1.5" />
<rect x="1147.6" y="465.7" width="20.4" height="38.6" fill="#fff"/>
<line x1="1149.6" y1="465.7" x2="1149.6" y2="504.3" stroke="#aaa" stroke-width="1" />
<line x1="1153.8" y1="465.7" x2="1153.8" y2="504.3" stroke="#8c8c8c" stroke-width="1" />
<line x1="1158.6" y1="465.7" x2="1158.6" y2="504.3" stroke="#777" stroke-width="1.2" />
<line x1="1166.5" y1="465.7" x2="1166.5" y2="504.3" stroke="#aaa" stroke-width="1" />
<line x1="1149.2" y1="465.7" x2="1167.2" y2="465.7" stroke="#111" stroke-width="1.5" />
<line x1="1149.2" y1="504.3" x2="1167.2" y2="504.3" stroke="#111" stroke-width="1.5" />
<rect x="1147.6" y="562.6" width="20.4" height="37.8" fill="#fff"/>
<line x1="1149.6" y1="562.6" x2="1149.6" y2="600.4" stroke="#aaa" stroke-width="1" />
<line x1="1153.8" y1="562.6" x2="1153.8" y2="600.4" stroke="#8c8c8c" stroke-width="1" />
<line x1="1158.6" y1="562.6" x2="1158.6" y2="600.4" stroke="#777" stroke-width="1.2" />
<line x1="1166.5" y1="562.6" x2="1166.5" y2="600.4" stroke="#aaa" stroke-width="1" />
<line x1="1149.2" y1="562.6" x2="1167.2" y2="562.6" stroke="#111" stroke-width="1.5" />
<line x1="1149.2" y1="600.4" x2="1167.2" y2="600.4" stroke="#111" stroke-width="1.5" />
<rect x="670.4" y="488.1" width="20.4" height="37.8" fill="#fff"/>
<line x1="671.9" y1="488.1" x2="671.9" y2="525.9" stroke="#aaa" stroke-width="1" />
<line x1="680" y1="488.1" x2="680" y2="525.9" stroke="#888" stroke-width="1.2" />
<line x1="684.5" y1="488.1" x2="684.5" y2="525.9" stroke="#8c8c8c" stroke-width="1" />
<line x1="688.8" y1="488.1" x2="688.8" y2="525.9" stroke="#aaa" stroke-width="1" />
<line x1="671.2" y1="488.1" x2="689.2" y2="488.1" stroke="#111" stroke-width="1.5" />
<line x1="671.2" y1="525.9" x2="689.2" y2="525.9" stroke="#111" stroke-width="1.5" />
<rect x="670.4" y="557.2" width="20.4" height="38.4" fill="#fff"/>
<line x1="671.9" y1="557.2" x2="671.9" y2="595.6" stroke="#aaa" stroke-width="1" />
<line x1="680" y1="557.2" x2="680" y2="595.6" stroke="#888" stroke-width="1.2" />
<line x1="684.5" y1="557.2" x2="684.5" y2="595.6" stroke="#8c8c8c" stroke-width="1" />
<line x1="688.8" y1="557.2" x2="688.8" y2="595.6" stroke="#aaa" stroke-width="1" />
<line x1="671.2" y1="557.2" x2="689.2" y2="557.2" stroke="#111" stroke-width="1.5" />
<line x1="671.2" y1="595.6" x2="689.2" y2="595.6" stroke="#111" stroke-width="1.5" />
<rect x="732.1" y="785.8" width="114.9" height="19.2" fill="#fff"/>
<line x1="732.1" y1="787.4" x2="732.1" y2="804.2" stroke="#111" stroke-width="1.5" />
<line x1="847" y1="787.4" x2="847" y2="804.2" stroke="#111" stroke-width="1.5" />
<line x1="732.1" y1="804.7" x2="847" y2="804.7" stroke="#999" stroke-width="1" />
<line x1="732.1" y1="792.6" x2="790" y2="792.6" stroke="#999" stroke-width="1" />
<line x1="790" y1="797.5" x2="847" y2="797.5" stroke="#999" stroke-width="1" />
<rect x="889.5" y="486.2" width="11" height="42.2" fill="#fff"/>
<line x1="890.6" y1="486.2" x2="899" y2="486.2" stroke="#111" stroke-width="1.5" />
<line x1="890.6" y1="528.4" x2="899" y2="528.4" stroke="#111" stroke-width="1.5" />
<rect x="889.5" y="545.9" width="11" height="42.1" fill="#fff"/>
<line x1="890.6" y1="545.9" x2="899" y2="545.9" stroke="#111" stroke-width="1.5" />
<line x1="890.6" y1="588" x2="899" y2="588" stroke="#111" stroke-width="1.5" />
<rect x="891.3" y="529.1" width="7" height="16.1" stroke="#111" stroke-width="1.4" fill="#c6c6c6" />
<path d="M785.8 349 L785.8 400.1 L742.5 400.1 L742.5 479.6 L793.5 479.6 L793.5 469.7 L801 469.7" stroke="#111" stroke-width="6.8" fill="none" stroke-linejoin="miter" stroke-linecap="square"/>
<path d="M785.8 349 L785.8 400.1 L742.5 400.1 L742.5 479.6 L793.5 479.6 L793.5 469.7 L801 469.7" stroke="#bdbdbd" stroke-width="2.4" fill="none" stroke-linejoin="miter" stroke-linecap="square"/>
<path d="M841 469.7 L889 469.7" stroke="#111" stroke-width="6.6" fill="none" stroke-linejoin="miter" stroke-linecap="square"/>
<path d="M841 469.7 L889 469.7" stroke="#bdbdbd" stroke-width="2.2" fill="none" stroke-linejoin="miter" stroke-linecap="square"/>
<path d="M691 537 L767 537 L767 574.7 L810 574.7 L810 625.3 L747.5 625.3" stroke="#111" stroke-width="7.0" fill="none" stroke-linejoin="miter" stroke-linecap="square"/>
<path d="M691 537 L767 537 L767 574.7 L810 574.7 L810 625.3 L747.5 625.3" stroke="#bdbdbd" stroke-width="2.4" fill="none" stroke-linejoin="miter" stroke-linecap="square"/>
<path d="M708 625.3 L691 625.3" stroke="#111" stroke-width="7.0" fill="none" stroke-linejoin="miter" stroke-linecap="square"/>
<path d="M708 625.3 L691 625.3" stroke="#bdbdbd" stroke-width="2.4" fill="none" stroke-linejoin="miter" stroke-linecap="square"/>
<path d="M810 596.5 L817.5 596.5" stroke="#111" stroke-width="6.4" fill="none" stroke-linejoin="miter" stroke-linecap="square"/>
<path d="M810 596.5 L817.5 596.5" stroke="#bdbdbd" stroke-width="2.2" fill="none" stroke-linejoin="miter" stroke-linecap="square"/>
<path d="M862.5 596.4 L889 596.4" stroke="#111" stroke-width="6.6" fill="none" stroke-linejoin="miter" stroke-linecap="square"/>
<path d="M862.5 596.4 L889 596.4" stroke="#bdbdbd" stroke-width="2.4" fill="none" stroke-linejoin="miter" stroke-linecap="square"/>
<path d="M899 537.4 L1150 537.4" stroke="#111" stroke-width="8.5" fill="none" />
<path d="M899 537.5 L1150 537.5" stroke="#c8c8c8" stroke-width="4.6" fill="none" />
<rect x="783.1" y="240" width="129.7" height="89.2" stroke="#444" stroke-width="1.4" fill="none" />
<rect x="795" y="245" width="105.6" height="14.4" stroke="#222" stroke-width="1.5" fill="#fff" />
<rect x="796" y="246" width="103.6" height="5.6" stroke="none" stroke-width="0" fill="#dcdcdc" />
<line x1="795" y1="252.3" x2="900.6" y2="252.3" stroke="#222" stroke-width="1.6" />
<line x1="795.3" y1="259.4" x2="795.3" y2="329" stroke="#9a9a9a" stroke-width="1" />
<line x1="900.2" y1="259.4" x2="900.2" y2="329" stroke="#9a9a9a" stroke-width="1" />
<line x1="827.2" y1="233.5" x2="827.2" y2="329" stroke="#aaa" stroke-width="1.1" stroke-dasharray="14 4 2 4"/>
<line x1="806" y1="233.5" x2="827.5" y2="233.5" stroke="#999" stroke-width="1.2" />
<text transform="translate(823.3,221.4) rotate(-90) scale(0.7,1)" font-size="20" text-anchor="middle" fill="#111" font-weight="bold" >B</text>
<line x1="848.3" y1="240" x2="848.3" y2="329" stroke="#333" stroke-width="1.3" />
<line x1="856.8" y1="270" x2="856.8" y2="376" stroke="#8a8a8a" stroke-width="1" />
<circle cx="857.2" cy="257.2" r="13.3" stroke="#777" stroke-width="1.1" fill="#fff"/>
<text transform="translate(857.4,262.2) scale(0.95,1)" font-size="13.5" text-anchor="middle" fill="#444" stroke="#444" stroke-width="0.4" font-weight="normal" >p1</text>
<text transform="translate(853.4,288.9) rotate(-90) scale(0.95,1)" font-size="12.8" text-anchor="middle" fill="#444" stroke="#444" stroke-width="0.4" font-weight="normal" >80</text>
<text transform="translate(872.2,290.6) rotate(-90) scale(0.95,1)" font-size="12.8" text-anchor="middle" fill="#444" stroke="#444" stroke-width="0.4" font-weight="normal" >110</text>
<path d="M652.2 383 L652.2 361 L679 361" stroke="#999" stroke-width="1.2" fill="none" />
<text transform="translate(640.4,379.5) scale(0.85,1)" font-size="19.5" text-anchor="middle" fill="#111" stroke="#111" stroke-width="0.4" font-weight="normal" >A</text>
<path d="M1089.5 360.9 L1185.8 360.9 L1185.8 382.5" stroke="#999" stroke-width="1.2" fill="none" stroke-dasharray="14.2 14.4 17.5 15 300"/>
<text transform="translate(1197.8,379.5) scale(0.85,1)" font-size="19.5" text-anchor="middle" fill="#111" stroke="#111" stroke-width="0.4" font-weight="normal" >A</text>
<path d="M1089.5 712.5 L1185.8 712.5 L1185.8 690.9" stroke="#999" stroke-width="1.2" fill="none" stroke-dasharray="14.2 14.4 17.5 15 300"/>
<text transform="translate(1201,707.4) scale(0.85,1)" font-size="19.5" text-anchor="middle" fill="#111" stroke="#111" stroke-width="0.4" font-weight="normal" >A1</text>
<path d="M805.5 935.3 L827.4 935.3 L827.4 918" stroke="#aaa" stroke-width="1.1" fill="none" />
<text transform="translate(823,947.7) rotate(-90) scale(0.7,1)" font-size="20" text-anchor="middle" fill="#111" font-weight="bold" >B</text>
<line x1="713.5" y1="806" x2="713.5" y2="901" stroke="#999" stroke-width="1.1" stroke-dasharray="5 3"/>
<line x1="866.3" y1="806" x2="866.3" y2="901" stroke="#999" stroke-width="1.1" stroke-dasharray="5 3"/>
<line x1="719.5" y1="806" x2="719.5" y2="901" stroke="#aaa" stroke-width="1.6" />
<line x1="860.3" y1="806" x2="860.3" y2="901" stroke="#aaa" stroke-width="1.6" />
<line x1="730.9" y1="806" x2="730.9" y2="904" stroke="#8a8a8a" stroke-width="1.15" stroke-dasharray="5 3"/>
<line x1="735.1" y1="806" x2="735.1" y2="904" stroke="#8a8a8a" stroke-width="1.15" stroke-dasharray="5 3"/>
<line x1="730.9" y1="910" x2="730.9" y2="916" stroke="#aaa" stroke-width="1" />
<line x1="735.1" y1="910" x2="735.1" y2="916" stroke="#aaa" stroke-width="1" />
<line x1="749.8" y1="806" x2="749.8" y2="904" stroke="#8a8a8a" stroke-width="1.15" stroke-dasharray="5 3"/>
<line x1="754.4" y1="806" x2="754.4" y2="904" stroke="#8a8a8a" stroke-width="1.15" stroke-dasharray="5 3"/>
<line x1="749.8" y1="910" x2="749.8" y2="916" stroke="#aaa" stroke-width="1" />
<line x1="754.4" y1="910" x2="754.4" y2="916" stroke="#aaa" stroke-width="1" />
<line x1="769.4" y1="806" x2="769.4" y2="904" stroke="#8a8a8a" stroke-width="1.15" stroke-dasharray="5 3"/>
<line x1="773" y1="806" x2="773" y2="904" stroke="#8a8a8a" stroke-width="1.15" stroke-dasharray="5 3"/>
<line x1="769.4" y1="910" x2="769.4" y2="916" stroke="#aaa" stroke-width="1" />
<line x1="773" y1="910" x2="773" y2="916" stroke="#aaa" stroke-width="1" />
<line x1="787.5" y1="806" x2="787.5" y2="904" stroke="#8a8a8a" stroke-width="1.15" stroke-dasharray="5 3"/>
<line x1="791.1" y1="806" x2="791.1" y2="904" stroke="#8a8a8a" stroke-width="1.15" stroke-dasharray="5 3"/>
<line x1="787.5" y1="910" x2="787.5" y2="916" stroke="#aaa" stroke-width="1" />
<line x1="791.1" y1="910" x2="791.1" y2="916" stroke="#aaa" stroke-width="1" />
<line x1="806.1" y1="806" x2="806.1" y2="904" stroke="#8a8a8a" stroke-width="1.15" stroke-dasharray="5 3"/>
<line x1="810.3" y1="806" x2="810.3" y2="904" stroke="#8a8a8a" stroke-width="1.15" stroke-dasharray="5 3"/>
<line x1="806.1" y1="910" x2="806.1" y2="916" stroke="#aaa" stroke-width="1" />
<line x1="810.3" y1="910" x2="810.3" y2="916" stroke="#aaa" stroke-width="1" />
<line x1="825.4" y1="806" x2="825.4" y2="904" stroke="#8a8a8a" stroke-width="1.15" stroke-dasharray="5 3"/>
<line x1="829.6" y1="806" x2="829.6" y2="904" stroke="#8a8a8a" stroke-width="1.15" stroke-dasharray="5 3"/>
<line x1="825.4" y1="910" x2="825.4" y2="916" stroke="#aaa" stroke-width="1" />
<line x1="829.6" y1="910" x2="829.6" y2="916" stroke="#aaa" stroke-width="1" />
<line x1="844.6" y1="806" x2="844.6" y2="904" stroke="#8a8a8a" stroke-width="1.15" stroke-dasharray="5 3"/>
<line x1="848.8" y1="806" x2="848.8" y2="904" stroke="#8a8a8a" stroke-width="1.15" stroke-dasharray="5 3"/>
<line x1="844.6" y1="910" x2="844.6" y2="916" stroke="#aaa" stroke-width="1" />
<line x1="848.8" y1="910" x2="848.8" y2="916" stroke="#aaa" stroke-width="1" />
<line x1="728" y1="904" x2="851" y2="904" stroke="#aaa" stroke-width="1" stroke-dasharray="5 3"/>
<rect x="728.3" y="907" width="122.9" height="9.2" stroke="#999" stroke-width="1" fill="none" />
<line x1="728.3" y1="909.2" x2="851.2" y2="909.2" stroke="#bbb" stroke-width="1.4" stroke-dasharray="3 1.5"/>
<rect x="713" y="901.4" width="15.3" height="15.3" stroke="none" stroke-width="0" fill="#0d0d0d" />
<rect x="851.2" y="901.4" width="15.1" height="15.3" stroke="none" stroke-width="0" fill="#0d0d0d" />
<rect x="717.5" y="904" width="4.5" height="4" stroke="none" stroke-width="0" fill="#ccc" />
<rect x="855.5" y="904" width="4.5" height="4" stroke="none" stroke-width="0" fill="#ccc" />
<rect x="770.7" y="822.2" width="30.4" height="23.3" stroke="#999" stroke-width="1" fill="none" stroke-dasharray="3 1.5"/>
<text transform="translate(785.6,842.4) scale(0.95,1)" font-size="19.5" text-anchor="middle" fill="#222" stroke="#222" stroke-width="0.4" font-weight="normal" >07</text>
<line x1="789.6" y1="729.6" x2="789.6" y2="822" stroke="#888" stroke-width="1" />
<line x1="691.5" y1="397.4" x2="738.7" y2="397.4" stroke="#9a9a9a" stroke-width="1" />
<line x1="691.5" y1="410.7" x2="738.7" y2="410.7" stroke="#9a9a9a" stroke-width="1" />
<line x1="691.5" y1="423.7" x2="738.7" y2="423.7" stroke="#9a9a9a" stroke-width="1" />
<line x1="691.5" y1="436.7" x2="738.7" y2="436.7" stroke="#9a9a9a" stroke-width="1" />
<line x1="691.5" y1="449.6" x2="738.7" y2="449.6" stroke="#9a9a9a" stroke-width="1" />
<line x1="691.5" y1="462.6" x2="738.7" y2="462.6" stroke="#9a9a9a" stroke-width="1" />
<line x1="691.5" y1="475.6" x2="738.7" y2="475.6" stroke="#9a9a9a" stroke-width="1" />
<line x1="714.6" y1="371.9" x2="714.6" y2="506.1" stroke="#8a8a8a" stroke-width="1" />
<line x1="714.6" y1="372.4" x2="781.7" y2="372.4" stroke="#8a8a8a" stroke-width="1" />
<line x1="748.9" y1="348" x2="748.9" y2="396" stroke="#aaa" stroke-width="1" />
<line x1="761.9" y1="348" x2="761.9" y2="396" stroke="#aaa" stroke-width="1" />
<line x1="775.7" y1="348" x2="775.7" y2="396" stroke="#aaa" stroke-width="1" />
<line x1="800.4" y1="347.5" x2="800.4" y2="396.6" stroke="#aaa" stroke-width="1" />
<line x1="813.6" y1="347.5" x2="813.6" y2="396.6" stroke="#aaa" stroke-width="1" />
<line x1="789.5" y1="396.6" x2="813.6" y2="396.6" stroke="#bbb" stroke-width="1" />
<text transform="translate(756.2,355) rotate(-90)" font-size="6" text-anchor="middle" fill="#999" font-weight="normal" >5</text>
<text transform="translate(768.8,355) rotate(-90)" font-size="6" text-anchor="middle" fill="#999" font-weight="normal" >6</text>
<text transform="translate(780.2,355) rotate(-90)" font-size="6" text-anchor="middle" fill="#999" font-weight="normal" >7</text>
<text transform="translate(794.2,355) rotate(-90)" font-size="6" text-anchor="middle" fill="#999" font-weight="normal" >13</text>
<text transform="translate(807,355) rotate(-90)" font-size="6" text-anchor="middle" fill="#999" font-weight="normal" >14</text>
<text transform="translate(720.5,355) rotate(-90)" font-size="6" text-anchor="middle" fill="#999" font-weight="normal" >4</text>
<line x1="735.9" y1="346.9" x2="782.2" y2="390" stroke="#777" stroke-width="1.1" />
<line x1="742.5" y1="346.9" x2="783" y2="383" stroke="#777" stroke-width="1.1" />
<line x1="702.8" y1="360.7" x2="720" y2="360.7" stroke="#999" stroke-width="1.1" />
<line x1="734.4" y1="360.7" x2="746.7" y2="360.7" stroke="#999" stroke-width="1.1" />
<text transform="translate(697.5,403.9) rotate(-90)" font-size="6.5" text-anchor="middle" fill="#999" stroke="#999" stroke-width="0.4" font-weight="normal" >7</text>
<text transform="translate(697.5,417) rotate(-90)" font-size="6.5" text-anchor="middle" fill="#999" stroke="#999" stroke-width="0.4" font-weight="normal" >8</text>
<text transform="translate(697.5,430.1) rotate(-90)" font-size="6.5" text-anchor="middle" fill="#999" stroke="#999" stroke-width="0.4" font-weight="normal" >9</text>
<text transform="translate(697.5,443.2) rotate(-90)" font-size="6.5" text-anchor="middle" fill="#999" stroke="#999" stroke-width="0.4" font-weight="normal" >10</text>
<text transform="translate(697.5,456.3) rotate(-90)" font-size="6.5" text-anchor="middle" fill="#999" stroke="#999" stroke-width="0.4" font-weight="normal" >11</text>
<text transform="translate(697.5,469.4) rotate(-90)" font-size="6.5" text-anchor="middle" fill="#999" stroke="#999" stroke-width="0.4" font-weight="normal" >12</text>
<line x1="745.2" y1="483" x2="745.2" y2="533" stroke="#aaa" stroke-width="1" />
<line x1="758.1" y1="483" x2="758.1" y2="533" stroke="#aaa" stroke-width="1" />
<line x1="770.2" y1="483" x2="770.2" y2="533" stroke="#aaa" stroke-width="1" />
<line x1="691" y1="507" x2="770" y2="507" stroke="#888" stroke-width="1" />
<path d="M762 499 L770 507 L762 515" stroke="#888" stroke-width="1" fill="none" />
<text transform="translate(749,520) rotate(-90)" font-size="6.5" text-anchor="middle" fill="#888" stroke="#888" stroke-width="0.4" font-weight="normal" >14</text>
<text transform="translate(761.5,520) rotate(-90)" font-size="6.5" text-anchor="middle" fill="#888" stroke="#888" stroke-width="0.4" font-weight="normal" >15</text>
<text transform="translate(706.3,508) rotate(-90) scale(0.95,1)" font-size="13" text-anchor="middle" fill="#555" stroke="#555" stroke-width="0.4" font-weight="normal" >p = 97</text>
<circle cx="598.9" cy="506.7" r="13.9" stroke="#777" stroke-width="1.1" fill="#fff"/>
<text transform="translate(603.5,506.7) rotate(-90) scale(0.95,1)" font-size="13" text-anchor="middle" fill="#555" stroke="#555" stroke-width="0.4" font-weight="normal" >p1</text>
<line x1="612.8" y1="506.7" x2="691" y2="506.7" stroke="#8a8a8a" stroke-width="1" />
<text transform="translate(631,501.9) scale(0.95,1)" font-size="13" text-anchor="middle" fill="#444" stroke="#444" stroke-width="0.4" font-weight="normal" >80</text>
<text transform="translate(634.4,521.5) scale(0.95,1)" font-size="13" text-anchor="middle" fill="#444" stroke="#444" stroke-width="0.4" font-weight="normal" >110</text>
<circle cx="598.9" cy="576.2" r="13.9" stroke="#777" stroke-width="1.1" fill="#fff"/>
<text transform="translate(603.5,576.2) rotate(-90) scale(0.95,1)" font-size="13" text-anchor="middle" fill="#555" stroke="#555" stroke-width="0.4" font-weight="normal" >p1</text>
<line x1="612.8" y1="576.2" x2="717" y2="576.2" stroke="#8a8a8a" stroke-width="1" />
<text transform="translate(631,571.4) scale(0.95,1)" font-size="13" text-anchor="middle" fill="#444" stroke="#444" stroke-width="0.4" font-weight="normal" >80</text>
<text transform="translate(634.4,591) scale(0.95,1)" font-size="13" text-anchor="middle" fill="#444" stroke="#444" stroke-width="0.4" font-weight="normal" >110</text>
<rect x="748.8" y="406" width="31.9" height="68.7" stroke="#999" stroke-width="1" fill="none" rx="14" ry="14"/>
<rect x="745.5" y="403.5" width="36.7" height="73.5" stroke="#bbb" stroke-width="0.9" fill="none" />
<circle cx="764.5" cy="465" r="1.3" stroke="#777" stroke-width="1" fill="#777"/>
<rect x="789.7" y="358.8" width="32.7" height="17.3" stroke="#999" stroke-width="1" fill="none" rx="4"/>
<rect x="789.7" y="358.8" width="10.3" height="17.3" stroke="#999" stroke-width="1" fill="none" />
<line x1="795" y1="358.8" x2="795" y2="376.1" stroke="#aaa" stroke-width="0.8" />
<rect x="869.6" y="350.4" width="16.7" height="34.6" stroke="#888" stroke-width="1.2" fill="none" />
<rect x="872.6" y="353" width="11.4" height="29.5" stroke="#aaa" stroke-width="0.8" fill="none" />
<line x1="881" y1="368" x2="887" y2="368" stroke="#444" stroke-width="1.3" />
<path d="M889.7 423.3 L889.7 464.3 L847.4 464.3" stroke="#999" stroke-width="1" fill="none" />
<path d="M847.4 464.3 A42 41 0 0 1 889.7 423.3" stroke="#999" stroke-width="1.2" fill="none"/>
<path d="M852 462 A36 36 0 0 1 887 426" stroke="#aaa" stroke-width="1" fill="none"/>
<circle cx="882" cy="457.5" r="1.2" stroke="#777" stroke-width="1" fill="#777"/>
<line x1="803.6" y1="431.7" x2="803.6" y2="466" stroke="#aaa" stroke-width="1" />
<path d="M803.6 430 A36 36 0 0 1 839.6 466" stroke="#aaa" stroke-width="1" fill="none" stroke-dasharray="4 2"/>
<text transform="translate(816.5,444.9) rotate(-90) scale(0.95,1)" font-size="13" text-anchor="middle" fill="#555" stroke="#555" stroke-width="0.4" font-weight="normal" >80</text>
<text transform="translate(835.2,448.3) rotate(-90) scale(0.95,1)" font-size="13" text-anchor="middle" fill="#555" stroke="#555" stroke-width="0.4" font-weight="normal" >203</text>
<path d="M813.3 387.4 A11.8 11.8 0 1 1 830.3 401.6" stroke="#888" stroke-width="1" fill="none"/>
<text transform="translate(821.7,398.3) scale(0.95,1)" font-size="11.5" text-anchor="middle" fill="#555" stroke="#555" stroke-width="0.4" font-weight="normal" >14</text>
<rect x="811.3" y="399.7" width="32.6" height="22.9" stroke="#999" stroke-width="1" fill="#fff" />
<text transform="translate(827.6,419) scale(0.95,1)" font-size="19.5" text-anchor="middle" fill="#222" stroke="#222" stroke-width="0.4" font-weight="normal" >02</text>
<line x1="821" y1="422.6" x2="821" y2="498" stroke="#999" stroke-width="1" />
<text transform="translate(836,368.3) scale(0.95,1)" font-size="14" text-anchor="start" fill="#555" stroke="#555" stroke-width="0.4" font-weight="normal" >p =</text>
<text transform="translate(862.6,368.3) scale(0.95,1)" font-size="14" text-anchor="start" fill="#555" stroke="#555" stroke-width="0.4" font-weight="normal" >6</text>
<line x1="856.4" y1="340" x2="856.4" y2="374.7" stroke="#888" stroke-width="1" />
<rect x="701.7" y="540.6" width="16.6" height="32.7" stroke="#999" stroke-width="1" fill="none" rx="4"/>
<line x1="701.7" y1="546" x2="718.3" y2="546" stroke="#999" stroke-width="1" />
<line x1="701.7" y1="549" x2="718.3" y2="549" stroke="#999" stroke-width="1" />
<rect x="732.2" y="540.6" width="30" height="20.5" stroke="#999" stroke-width="1" fill="none" />
<rect x="734.5" y="545" width="26.5" height="15" stroke="#aaa" stroke-width="0.8" fill="none" />
<line x1="747" y1="544" x2="747" y2="549" stroke="#444" stroke-width="1.4" />
<rect x="720" y="538" width="13" height="26" stroke="#999" stroke-width="1" fill="#fff" rx="6.5"/>
<text transform="translate(726.6,555.8) scale(0.9,1)" font-size="11.5" text-anchor="middle" fill="#555" stroke="#555" stroke-width="0.4" font-weight="normal" >14</text>
<rect x="722.8" y="566.7" width="31.1" height="23.3" stroke="#999" stroke-width="1" fill="#fff" />
<text transform="translate(738.3,586.3) scale(0.95,1)" font-size="19.5" text-anchor="middle" fill="#222" stroke="#222" stroke-width="0.4" font-weight="normal" >03</text>
<line x1="727.6" y1="566" x2="727.6" y2="659" stroke="#999" stroke-width="1" />
<rect x="765.6" y="580.6" width="38.8" height="38.8" stroke="#999" stroke-width="1" fill="none" rx="4"/>
<rect x="768" y="583" width="34" height="34" stroke="#aaa" stroke-width="0.8" fill="none" rx="4"/>
<circle cx="798.5" cy="613.5" r="1.2" stroke="#777" stroke-width="1" fill="#777"/>
<rect x="773.3" y="540.6" width="27.8" height="28.3" stroke="#ccc" stroke-width="0.8" fill="none" />
<circle cx="787.1" cy="554.5" r="13.8" stroke="#cfcfcf" stroke-width="1" fill="#dcdcdc"/>
<line x1="710" y1="587.2" x2="710" y2="621.7" stroke="#aaa" stroke-width="1" />
<path d="M710 587 A35.5 35.5 0 0 1 745.5 622.5" stroke="#aaa" stroke-width="1" fill="none" stroke-dasharray="4 2"/>
<text transform="translate(722.5,603) rotate(-90) scale(0.95,1)" font-size="13" text-anchor="middle" fill="#555" stroke="#555" stroke-width="0.4" font-weight="normal" >80</text>
<text transform="translate(741.5,605) rotate(-90) scale(0.95,1)" font-size="13" text-anchor="middle" fill="#555" stroke="#555" stroke-width="0.4" font-weight="normal" >203</text>
<text transform="translate(708.2,588) rotate(-90) scale(0.95,1)" font-size="13" text-anchor="middle" fill="#777" stroke="#777" stroke-width="0.4" font-weight="normal" >p = </text>
<rect x="834.2" y="518.2" width="32.4" height="23.8" stroke="#888" stroke-width="1" fill="#fff" />
<text transform="translate(850.4,538.4) scale(0.95,1)" font-size="19.5" text-anchor="middle" fill="#222" stroke="#222" stroke-width="0.4" font-weight="normal" >01</text>
<line x1="820.6" y1="470" x2="820.6" y2="501.8" stroke="#999" stroke-width="1" />
<line x1="840" y1="564" x2="840" y2="658" stroke="#999" stroke-width="1" />
<line x1="861.4" y1="506.5" x2="955.6" y2="506.5" stroke="#9a9a9a" stroke-width="1" />
<circle cx="970.4" cy="506.5" r="14.7" stroke="#777" stroke-width="1" fill="#fff"/>
<text transform="translate(975,506.5) rotate(-90) scale(0.95,1)" font-size="13" text-anchor="middle" fill="#555" stroke="#555" stroke-width="0.4" font-weight="normal" >15</text>
<text transform="translate(919.4,502.4) scale(0.95,1)" font-size="13.5" text-anchor="middle" fill="#555" stroke="#555" stroke-width="0.4" font-weight="normal" >90</text>
<text transform="translate(916.2,521.5) scale(0.95,1)" font-size="13.5" text-anchor="middle" fill="#777" stroke="#777" stroke-width="0.4" font-weight="normal" >203</text>
<line x1="861.4" y1="566.5" x2="955.6" y2="566.5" stroke="#9a9a9a" stroke-width="1" />
<circle cx="970.4" cy="566.5" r="14.7" stroke="#777" stroke-width="1" fill="#fff"/>
<text transform="translate(975,566.5) rotate(-90) scale(0.95,1)" font-size="13" text-anchor="middle" fill="#555" stroke="#555" stroke-width="0.4" font-weight="normal" >16</text>
<text transform="translate(919.4,561.8) scale(0.95,1)" font-size="13.5" text-anchor="middle" fill="#555" stroke="#555" stroke-width="0.4" font-weight="normal" >90</text>
<text transform="translate(916.2,581.5) scale(0.95,1)" font-size="13.5" text-anchor="middle" fill="#777" stroke="#777" stroke-width="0.4" font-weight="normal" >203</text>
<path d="M898 486 A42 42 0 0 1 940 526" stroke="#aaa" stroke-width="1" fill="none" stroke-dasharray="5 2"/>
<path d="M898 588 A42 42 0 0 0 940 548" stroke="#aaa" stroke-width="1" fill="none" stroke-dasharray="5 2"/>
<line x1="899" y1="526" x2="938" y2="526" stroke="#bbb" stroke-width="1" />
<line x1="899" y1="546.5" x2="938" y2="546.5" stroke="#bbb" stroke-width="1" />
<line x1="860" y1="600" x2="860" y2="638.9" stroke="#aaa" stroke-width="1" />
<path d="M820.5 600 A39.5 39.5 0 0 0 860 639.5" stroke="#aaa" stroke-width="1" fill="none" stroke-dasharray="4 2"/>
<text transform="translate(835.5,622.2) rotate(-90) scale(0.95,1)" font-size="13" text-anchor="middle" fill="#555" stroke="#555" stroke-width="0.4" font-weight="normal" >90</text>
<text transform="translate(854.5,618.5) rotate(-90) scale(0.95,1)" font-size="13" text-anchor="middle" fill="#555" stroke="#555" stroke-width="0.4" font-weight="normal" >203</text>
<circle cx="840.2" cy="672.2" r="14.5" stroke="#777" stroke-width="1" fill="#fff"/>
<text transform="translate(840.2,677.2) scale(0.95,1)" font-size="13" text-anchor="middle" fill="#555" stroke="#555" stroke-width="0.4" font-weight="normal" >17</text>
<rect x="718.3" y="658.9" width="66.7" height="84.1" stroke="#999" stroke-width="1.2" fill="none" />
<path d="M718.3 661 L712 665 L712 737 L718.3 741" stroke="#999" stroke-width="1" fill="none" />
<rect x="691" y="658.3" width="19" height="39.7" stroke="#aaa" stroke-width="1" fill="none" />
<rect x="691" y="703.7" width="19" height="39.8" stroke="#aaa" stroke-width="1" fill="none" />
<line x1="703.5" y1="634" x2="703.5" y2="656.5" stroke="#aaa" stroke-width="1" />
<path d="M691 768.5 L703.5 768.5 L703.5 744" stroke="#aaa" stroke-width="1" fill="none" />
<rect x="770.2" y="684.3" width="31.5" height="22.7" stroke="#888" stroke-width="1" fill="#fff" />
<text transform="translate(786,703.5) scale(0.95,1)" font-size="19.5" text-anchor="middle" fill="#222" stroke="#222" stroke-width="0.4" font-weight="normal" >04</text>
<path d="M793 704 A11.5 11.5 0 0 1 793 727" stroke="#888" stroke-width="1" fill="none"/>
<text transform="translate(792.5,720.3) scale(0.95,1)" font-size="11.5" text-anchor="middle" fill="#555" stroke="#555" stroke-width="0.4" font-weight="normal" >13</text>
<text transform="translate(785.6,769.4) rotate(-90) scale(0.95,1)" font-size="13" text-anchor="middle" fill="#444" stroke="#444" stroke-width="0.4" font-weight="normal" >240</text>
<text transform="translate(803.4,769.4) rotate(-90) scale(0.95,1)" font-size="13" text-anchor="middle" fill="#444" stroke="#444" stroke-width="0.4" font-weight="normal" >230</text>
<rect x="991.4" y="438.1" width="85.7" height="94.7" stroke="#999" stroke-width="1.4" fill="none" />
<rect x="994.1" y="511.9" width="37.3" height="18.5" stroke="#aaa" stroke-width="1.1" fill="none" />
<rect x="1036.6" y="511.9" width="37.7" height="18.5" stroke="#aaa" stroke-width="1.1" fill="none" />
<line x1="1000.6" y1="511.9" x2="1067" y2="511.9" stroke="#999" stroke-width="1.3" />
<path d="M991.4 503.6 L1000.6 503.6 L1000.6 511.9 L991.4 503.6" stroke="#999" stroke-width="1.1" fill="none" />
<path d="M1076.9 503.6 L1067 503.6 L1067 511.9 L1076.9 503.6" stroke="#999" stroke-width="1.1" fill="none" />
<rect x="966.4" y="518.2" width="24.6" height="37.3" stroke="#aaa" stroke-width="1" fill="none" />
<rect x="1077.5" y="518.2" width="24.5" height="37.3" stroke="#aaa" stroke-width="1" fill="none" />
<rect x="1006" y="447.1" width="31.2" height="23.7" stroke="#888" stroke-width="1" fill="#fff" />
<text transform="translate(1021.6,467.3) scale(0.95,1)" font-size="19.5" text-anchor="middle" fill="#222" stroke="#222" stroke-width="0.4" font-weight="normal" >06</text>
<rect x="945.1" y="395.7" width="19.9" height="18.9" stroke="#999" stroke-width="1" fill="#b4b4b4" />
<circle cx="955" cy="404.5" r="4.2" stroke="#888" stroke-width="1" fill="#fff"/>
<text transform="translate(1009.4,413.3) scale(0.95,1)" font-size="14" text-anchor="start" fill="#555" stroke="#555" stroke-width="0.4" font-weight="normal" >p =</text>
<text transform="translate(1034.7,413.3) scale(0.95,1)" font-size="14" text-anchor="start" fill="#555" stroke="#555" stroke-width="0.4" font-weight="normal" >65</text>
<line x1="1029.5" y1="320.2" x2="1029.5" y2="423" stroke="#8a8a8a" stroke-width="1" />
<circle cx="1029.5" cy="305.2" r="15" stroke="#777" stroke-width="1.1" fill="#fff"/>
<text transform="translate(1029.5,310.2) scale(0.95,1)" font-size="14" text-anchor="middle" fill="#444" stroke="#444" stroke-width="0.4" font-weight="normal" >p1</text>
<text transform="translate(1024.6,336.7) rotate(-90) scale(0.95,1)" font-size="13.5" text-anchor="middle" fill="#444" stroke="#444" stroke-width="0.4" font-weight="normal" >80</text>
<text transform="translate(1044,338.2) rotate(-90) scale(0.95,1)" font-size="13.5" text-anchor="middle" fill="#444" stroke="#444" stroke-width="0.4" font-weight="normal" >110</text>
<rect x="991.2" y="542.3" width="86.2" height="95.2" stroke="#999" stroke-width="1.4" fill="none" />
<rect x="994.1" y="544.4" width="37.3" height="18.7" stroke="#aaa" stroke-width="1.1" fill="none" />
<rect x="1036.6" y="544.4" width="37.7" height="18.7" stroke="#aaa" stroke-width="1.1" fill="none" />
<line x1="1000.6" y1="563.1" x2="1067" y2="563.1" stroke="#999" stroke-width="1.3" />
<path d="M991.4 571.4 L1000.6 571.4 L1000.6 563.1 L991.4 571.4" stroke="#999" stroke-width="1.1" fill="none" />
<path d="M1076.9 571.4 L1067 571.4 L1067 563.1 L1076.9 571.4" stroke="#999" stroke-width="1.1" fill="none" />
<rect x="1006" y="586" width="31.2" height="23.7" stroke="#888" stroke-width="1" fill="#fff" />
<text transform="translate(1021.6,606.2) scale(0.95,1)" font-size="19.5" text-anchor="middle" fill="#222" stroke="#222" stroke-width="0.4" font-weight="normal" >05</text>
<text transform="translate(1010.2,662.1) scale(0.95,1)" font-size="14" text-anchor="start" fill="#555" stroke="#555" stroke-width="0.4" font-weight="normal" >p =</text>
<text transform="translate(1035.7,662.1) scale(0.95,1)" font-size="14" text-anchor="start" fill="#555" stroke="#555" stroke-width="0.4" font-weight="normal" >97</text>
<line x1="1029.6" y1="642.8" x2="1029.6" y2="747" stroke="#8a8a8a" stroke-width="1" />
<circle cx="1029.6" cy="761.6" r="14.5" stroke="#777" stroke-width="1.1" fill="#fff"/>
<text transform="translate(1029.6,766.6) scale(0.95,1)" font-size="14" text-anchor="middle" fill="#444" stroke="#444" stroke-width="0.4" font-weight="normal" >p1</text>
<text transform="translate(1026.2,729.9) rotate(-90) scale(0.95,1)" font-size="13.5" text-anchor="middle" fill="#444" stroke="#444" stroke-width="0.4" font-weight="normal" >80</text>
<text transform="translate(1044.6,726.4) rotate(-90) scale(0.95,1)" font-size="13.5" text-anchor="middle" fill="#444" stroke="#444" stroke-width="0.4" font-weight="normal" >110</text>
<line x1="1120.5" y1="485.4" x2="1223" y2="485.4" stroke="#8a8a8a" stroke-width="1" />
<circle cx="1238.1" cy="485.4" r="15" stroke="#777" stroke-width="1.1" fill="#fff"/>
<text transform="translate(1243,485.4) rotate(-90) scale(0.95,1)" font-size="14" text-anchor="middle" fill="#444" stroke="#444" stroke-width="0.4" font-weight="normal" >p1</text>
<text transform="translate(1206.6,480.5) scale(0.95,1)" font-size="13.5" text-anchor="middle" fill="#444" stroke="#444" stroke-width="0.4" font-weight="normal" >80</text>
<text transform="translate(1204.6,499.6) scale(0.95,1)" font-size="13.5" text-anchor="middle" fill="#444" stroke="#444" stroke-width="0.4" font-weight="normal" >110</text>
<text transform="translate(1140,485.4) rotate(-90) scale(0.95,1)" font-size="13.5" text-anchor="middle" fill="#444" stroke="#444" stroke-width="0.4" font-weight="normal" >p = 97</text>
<line x1="1120.5" y1="580.7" x2="1223" y2="580.7" stroke="#8a8a8a" stroke-width="1" />
<circle cx="1238.1" cy="580.7" r="15" stroke="#777" stroke-width="1.1" fill="#fff"/>
<text transform="translate(1243,580.7) rotate(-90) scale(0.95,1)" font-size="14" text-anchor="middle" fill="#444" stroke="#444" stroke-width="0.4" font-weight="normal" >p1</text>
<text transform="translate(1206.6,575.8) scale(0.95,1)" font-size="13.5" text-anchor="middle" fill="#444" stroke="#444" stroke-width="0.4" font-weight="normal" >80</text>
<text transform="translate(1204.6,594.9) scale(0.95,1)" font-size="13.5" text-anchor="middle" fill="#444" stroke="#444" stroke-width="0.4" font-weight="normal" >110</text>
<text transform="translate(1140,580.7) rotate(-90) scale(0.95,1)" font-size="13.5" text-anchor="middle" fill="#444" stroke="#444" stroke-width="0.4" font-weight="normal" >p = 97</text>
</svg>
</body></html>
